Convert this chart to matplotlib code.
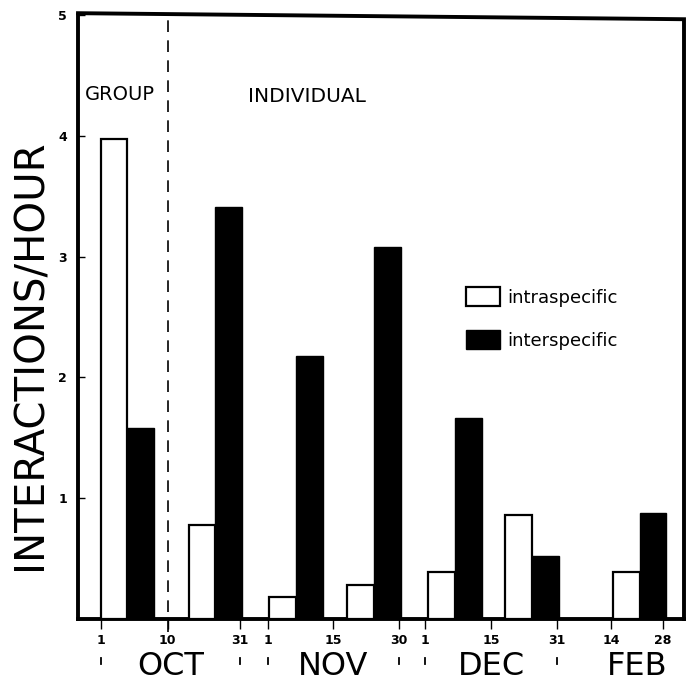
import matplotlib
matplotlib.use("Agg")
import matplotlib.pyplot as plt
import matplotlib.transforms as mtransforms
from matplotlib.lines import Line2D

# ---------------- data ----------------
periods = ['Oct 1-10', 'Oct 10-31', 'Nov 1-15', 'Nov 15-30',
           'Dec 1-15', 'Dec 15-31', 'Feb 14-28']
intraspecific = [3.97, 0.78, 0.185, 0.28, 0.39, 0.86, 0.39]
interspecific = [1.58, 3.41, 2.18, 3.08, 1.66, 0.52, 0.875]
# schematic (non-linear) time axis, arbitrary units
period_centers = [49.3, 137.3, 218.2, 295.8, 376.7, 453.7, 561.5]
day_ticks = [22.7, 89.5, 162, 190, 255, 321, 347, 413, 479, 533, 585]
day_labels = ['1', '10', '31', '1', '15', '30', '1', '15', '31', '14', '28']
months = ['OCT', 'NOV', 'DEC', 'FEB']
month_first_last = [(0, 2), (3, 5), (6, 8), (9, 10)]
boundary_idx = [0, 2, 3, 5, 6, 8]
group_split_idx = 1
y_ticks = [1, 2, 3, 4, 5]

# ---------------- figure ----------------
W, H = 689, 692
fig = plt.figure(figsize=(W / 100, H / 100), dpi=100)
ax = fig.add_axes([78 / W, 1 - 619 / H, 606 / W, 604 / H])
ax.set_xlim(0, 606)
ax.set_ylim(0, 5)

bw = 26.8
xs_w = [c - bw / 2 for c in period_centers]
xs_b = [c + bw / 2 for c in period_centers]
b1 = ax.bar(xs_w, intraspecific, width=bw, facecolor='white',
            edgecolor='black', linewidth=1.6, label='intraspecific', zorder=3)
b2 = ax.bar(xs_b, interspecific, width=bw, facecolor='black',
            edgecolor='black', linewidth=1.0, label='interspecific', zorder=3)

# dashed GROUP / INDIVIDUAL separator
ax.axvline(day_ticks[group_split_idx], ymin=-0.022, ymax=0.998, color='black',
           linewidth=1.2, dashes=(7, 5), clip_on=False, zorder=2)

# spines
for s in ['top', 'right']:
    ax.spines[s].set_visible(False)
for s in ['left', 'bottom']:
    ax.spines[s].set_linewidth(2.8)
ax.plot([0, 1, 1], [1.003, 0.993, 0], transform=ax.transAxes, color='black',
        linewidth=2.8, clip_on=False, solid_joinstyle='miter', zorder=4)

# y axis
ax.set_yticks(y_ticks)
ax.set_yticklabels([str(t) for t in y_ticks], fontsize=9, fontweight='bold')
ax.tick_params(axis='y', direction='in', length=5, width=1.0, pad=8)
ax.set_ylabel('INTERACTIONS/HOUR', fontsize=29, va='center')
ax.yaxis.set_label_coords(-0.079, 0.437)

# x axis
ax.set_xticks(day_ticks)
ax.set_xticklabels(day_labels, fontsize=9, fontweight='bold')
ax.tick_params(axis='x', direction='out', length=7, width=1.0, pad=4)

trans = mtransforms.blended_transform_factory(ax.transData, ax.transAxes)
for m, (i0, i1) in zip(months, month_first_last):
    xm = (day_ticks[i0] + day_ticks[i1]) / 2
    ax.text(xm, -0.078, m, transform=trans, ha='center', va='center',
            fontsize=23)
for i in boundary_idx:
    ax.add_line(Line2D([day_ticks[i], day_ticks[i]], [-0.064, -0.075],
                       transform=trans, color='black', linewidth=1.3,
                       clip_on=False))

# section labels
ax.text((85 - 78) / 606, (619 - 95) / 604, 'GROUP', transform=ax.transAxes,
        ha='left', va='center', fontsize=14)
ax.text((248 - 78) / 606, (619 - 97) / 604, 'INDIVIDUAL', transform=ax.transAxes,
        ha='left', va='center', fontsize=14.5)

# legend
leg = ax.legend(handles=[b1, b2], loc='upper left',
                bbox_to_anchor=((466 - 78) / 606, (619 - 287) / 604),
                frameon=False, fontsize=13, borderpad=0, borderaxespad=0,
                handlelength=1.9, handleheight=1.25, handletextpad=0.4,
                labelspacing=1.3)

fig.savefig('out.png', dpi=100)
